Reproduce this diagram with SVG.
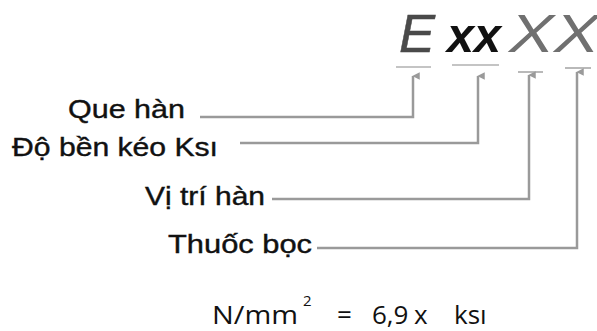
<svg xmlns="http://www.w3.org/2000/svg" width="597" height="331" viewBox="0 0 597 331">
<style>
.lbl{font-family:"Liberation Sans","DejaVu Sans",sans-serif;font-size:26px;fill:#111;stroke:#111;stroke-width:0.4}
.conn{fill:none;stroke:#9a9a9a;stroke-width:2.5}
.ul{stroke:#8a8a8a;stroke-width:1.2}
.formula{font-family:"Open Sans","Liberation Sans",sans-serif;font-size:26px;fill:#111}
</style>
<defs>
<marker id="ah" viewBox="0 0 10 10" refX="5" refY="1" markerWidth="3" markerHeight="3" orient="auto-start-reverse" markerUnits="strokeWidth">
<path d="M0,10 L5,0 L10,10 Z" fill="#9a9a9a"/>
</marker>
</defs>
<g id="code">
<text x="399" y="52" font-family="Liberation Sans,sans-serif" font-style="italic" font-size="54" fill="#4a4a4a" stroke="#4a4a4a" stroke-width="0.5">E</text>
<text x="447" y="52" font-family="Liberation Sans,sans-serif" font-style="italic" font-weight="bold" font-size="48" fill="#111" textLength="54" lengthAdjust="spacingAndGlyphs">xx</text>
<text x="509" y="52" font-family="Liberation Sans,sans-serif" font-style="italic" font-size="54" fill="#707070" textLength="90" lengthAdjust="spacingAndGlyphs">XX</text>
<line class="ul" x1="396" y1="67" x2="431" y2="67"/>
<line class="ul" x1="452" y1="65" x2="499" y2="65"/>
<line class="ul" x1="518" y1="72" x2="543" y2="72"/>
<line class="ul" x1="565" y1="68" x2="591" y2="68"/>
</g>
<g id="connectors">
<path class="conn" d="M200,117 H413 V76" marker-end="url(#ah)"/>
<path class="conn" d="M240,143 H478 V76" marker-end="url(#ah)"/>
<path class="conn" d="M272,199 H529 V75" marker-end="url(#ah)"/>
<path class="conn" d="M317,248 H577 V72" marker-end="url(#ah)"/>
</g>
<g id="que-han"><text class="lbl" x="68" y="118" textLength="117" lengthAdjust="spacingAndGlyphs">Que hàn</text></g>
<g id="do-ben"><text class="lbl" x="12" y="156" textLength="206" lengthAdjust="spacingAndGlyphs">Độ bền kéo Ksı</text></g>
<g id="vi-tri"><text class="lbl" x="145" y="205" textLength="120" lengthAdjust="spacingAndGlyphs">Vị trí hàn</text></g>
<g id="thuoc-boc"><text class="lbl" x="168" y="253" textLength="144" lengthAdjust="spacingAndGlyphs">Thuốc bọc</text></g>
<g id="formula">
<text class="formula" x="212" y="324" textLength="86" lengthAdjust="spacingAndGlyphs">N/mm</text>
<text x="303" y="306" font-family="Open Sans,Liberation Sans,sans-serif" font-size="15" fill="#111">2</text>
<text class="formula" x="337" y="324">=</text>
<text class="formula" x="372" y="324">6,9</text>
<text class="formula" x="414" y="324">x</text>
<text class="formula" x="454" y="324">ksı</text>
</g>
</svg>
